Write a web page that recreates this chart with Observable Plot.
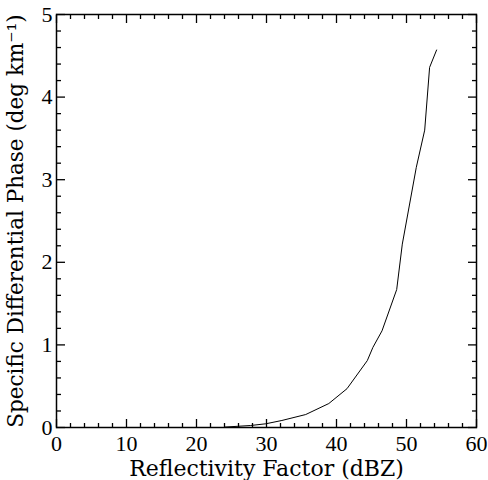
<!DOCTYPE html>
<html>
<head>
<meta charset="utf-8">
<script src="https://cdn.jsdelivr.net/npm/d3@7"></script>
<script src="https://cdn.jsdelivr.net/npm/@observablehq/plot@0.6"></script>
<style>
  html, body { margin: 0; padding: 0; background: #fff; }
  #chart svg { display: block; }
</style>
</head>
<body>
<div id="chart"></div>
<script>
// Data
const reflectivity = [24.0, 27.7, 29.9, 32.2, 35.6, 38.9, 41.5, 44.4, 45.2, 46.5, 48.6, 49.4, 51.4, 52.6, 53.3, 54.3];
const kdp =          [0.005, 0.024, 0.045, 0.085, 0.157, 0.29, 0.47, 0.81, 0.97, 1.17, 1.67, 2.22, 3.15, 3.60, 4.36, 4.57];
const xMajor = [0, 10, 20, 30, 40, 50, 60];
const xMinor = [2, 4, 6, 8, 12, 14, 16, 18, 22, 24, 26, 28, 32, 34, 36, 38, 42, 44, 46, 48, 52, 54, 56, 58];
const yMajor = [0, 1, 2, 3, 4, 5];
const yMinor = [0.2, 0.4, 0.6, 0.8, 1.2, 1.4, 1.6, 1.8, 2.2, 2.4, 2.6, 2.8, 3.2, 3.4, 3.6, 3.8, 4.2, 4.4, 4.6, 4.8];

const data = reflectivity.map((x, i) => ({x, y: kdp[i]}));

const W = 488, H = 480;
const mt = 14, mb = 53, ml = 56, mr = 12;
const labelFont = "'DejaVu Serif', 'Liberation Serif', serif";
const tickFont = "'Liberation Serif', serif";
const fmt = d => String(d);

function tickAxes(anchorX, anchorY) {
  return [
    Plot.axisX(xMajor, {anchor: anchorX, tickSize: -8, text: null, label: null, stroke: "#000", strokeWidth: 1.3}),
    Plot.axisX(xMinor, {anchor: anchorX, tickSize: -4, text: null, label: null, stroke: "#000", strokeWidth: 1.3}),
    Plot.axisY(yMajor, {anchor: anchorY, tickSize: -9, text: null, label: null, stroke: "#000", strokeWidth: 1.3}),
    Plot.axisY(yMinor, {anchor: anchorY, tickSize: -5, text: null, label: null, stroke: "#000", strokeWidth: 1.3})
  ];
}

const chart = Plot.plot({
  width: W, height: H,
  marginTop: mt, marginBottom: mb, marginLeft: ml, marginRight: mr,
  style: {fontFamily: labelFont, background: "#fff", color: "#000"},
  x: {domain: [0, 60]},
  y: {domain: [0, 5]},
  marks: [
    Plot.frame({stroke: "#000", strokeWidth: 1.5}),
    ...tickAxes("bottom", "left"),
    ...tickAxes("top", "right"),
    Plot.axisX(xMajor, {tickSize: 0, tickPadding: 8, fontSize: 22, fontFamily: tickFont, tickFormat: fmt, label: null}),
    Plot.axisY(yMajor, {tickSize: 0, tickPadding: 4, fontSize: 22, fontFamily: tickFont, tickFormat: fmt, label: null}),
    Plot.axisX({tickSize: 0, ticks: [], label: "Reflectivity Factor (dBZ)", labelAnchor: "center", labelOffset: 48, labelArrow: "none", fontSize: 22, fontFamily: labelFont}),
    Plot.axisY({tickSize: 0, ticks: [], label: "Specific Differential Phase (deg km⁻¹)", labelAnchor: "center", labelOffset: 49, labelArrow: "none", fontSize: 21.5, fontFamily: labelFont}),
    Plot.line(data, {x: "x", y: "y", stroke: "#000", strokeWidth: 1})
  ]
});
document.getElementById("chart").appendChild(chart);
</script>
</body>
</html>
